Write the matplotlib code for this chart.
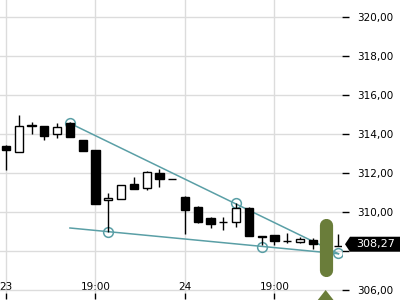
import matplotlib
matplotlib.use("Agg")
import matplotlib.pyplot as plt
from matplotlib.patches import Polygon
import numpy as np

# ---- data ----
opens  = [313.38, 313.09, 314.45, 314.41, 313.98, 314.55, 313.69, 313.18, 310.62, 310.65,
          311.42, 311.25, 312.02, 311.69, 310.75, 310.27, 309.68, 309.51, 309.47, 310.19,
          308.75, 308.80, 308.52, 308.45, 308.56, 308.29, 308.28]
highs  = [313.45, 314.97, 314.60, 314.41, 314.55, 314.62, 313.69, 313.18, 310.97, 311.37,
          311.78, 312.10, 312.20, 311.69, 310.80, 310.30, 309.73, 309.73, 310.48, 310.27,
          308.75, 308.80, 308.91, 308.70, 308.65, 308.39, 308.87]
lows   = [312.15, 313.06, 313.98, 313.69, 313.81, 313.86, 313.14, 310.43, 308.97, 310.65,
          311.16, 311.13, 311.30, 311.68, 308.87, 309.42, 309.16, 309.08, 309.25, 308.79,
          308.31, 308.31, 308.40, 308.40, 308.10, 307.96, 308.26]
closes = [313.20, 314.41, 314.42, 313.91, 314.37, 313.86, 313.14, 310.43, 310.73, 311.37,
          311.16, 312.05, 311.68, 311.68, 310.10, 309.50, 309.37, 309.49, 310.22, 308.79,
          308.72, 308.53, 308.50, 308.62, 308.36, 308.27, 308.27]

xtick_pos = [0, 7, 14, 21]
xtick_labels = ["23", "19:00", "24", "19:00"]
ytick_vals = [306, 308, 310, 312, 314, 316, 318, 320]
ytick_labels = ["306,00", "", "310,00", "312,00", "314,00", "316,00", "318,00", "320,00"]

upper_line_x = [5, 26]
upper_line_y = [314.55, 307.86]
lower_line_x = [5, 26]
lower_line_y = [309.18, 307.86]
pivot_x = [5, 8, 18, 20, 26]
pivot_y = [314.55, 308.98, 310.45, 308.22, 307.88]

signal_x = 25
signal_range = [307.02, 309.34]
signal_arrow_tip = 306.0

last_label = "308,27"

# ---- figure ----
W, H = 400, 300
fig = plt.figure(figsize=(4, 3), dpi=100)
ax = fig.add_axes([0.0, 7/H, 342/W, 293/H])
ax.set_xlim(-0.469, 26.28)
ax.set_ylim(305.846, 320.872)

for s in ax.spines.values():
    s.set_visible(False)

ax.set_xticks(xtick_pos)
ax.set_xticklabels(xtick_labels)
ax.set_yticks(ytick_vals)
ax.set_yticklabels(ytick_labels)
ax.yaxis.tick_right()
ax.grid(True, color="#dcdcdc", lw=1.0, zorder=0)
ax.set_axisbelow(True)
ax.tick_params(axis="x", direction="out", length=4, width=1, pad=-12, labelsize=7.5, colors="black")
ax.tick_params(axis="y", direction="out", length=5, width=1, pad=6, labelsize=7.5, colors="black")

x = np.arange(len(opens))
o = np.array(opens); c = np.array(closes); h = np.array(highs); l = np.array(lows)

teal = "#5a9fa6"
# trend lines
ax.plot(upper_line_x, upper_line_y, color=teal, lw=1.1, zorder=2)
ax.plot(lower_line_x, lower_line_y, color=teal, lw=1.1, zorder=2)
ax.plot(pivot_x, pivot_y, ls="none", marker="o", ms=7, mfc="none", mec=teal, mew=1.1, zorder=2)

# wicks
ax.vlines(x, l, h, color="black", lw=1.0, zorder=3)
# bodies
up = c >= o
bottoms = np.minimum(o, c)
heights = np.maximum(np.abs(c - o), 0.005)
ax.bar(x[up], heights[up], bottom=bottoms[up], width=0.64, facecolor="white", edgecolor="black", lw=1.0, zorder=4)
ax.bar(x[~up], heights[~up], bottom=bottoms[~up], width=0.64, facecolor="black", edgecolor="black", lw=1.0, zorder=4)

# signal capsule and arrow
green = "#6a7d3a"
ax.plot([signal_x, signal_x], signal_range, color=green, lw=9.5, solid_capstyle="round", zorder=5)
ax.fill([signal_x, signal_x - 0.9, signal_x + 0.9], [signal_arrow_tip, signal_arrow_tip - 0.75, signal_arrow_tip - 0.75],
        color=green, clip_on=False, zorder=5, lw=0)

# last price label (arrow box on right)
yd = ax.transData.transform((0, closes[-1]))[1] + 1.5
tip, left, right, half = 345, 350, 402, 7.5
pts = [(tip, yd), (left, yd + half), (right, yd + half), (right, yd - half), (left, yd - half)]
poly = Polygon([(px / W, py / H) for px, py in pts], closed=True, transform=fig.transFigure,
               fc="black", ec="none", zorder=10)
fig.add_artist(poly)
fig.text(356 / W, yd / H, last_label, color="white", fontsize=8, va="center", ha="left", zorder=11)

fig.savefig("out.png", dpi=100)
